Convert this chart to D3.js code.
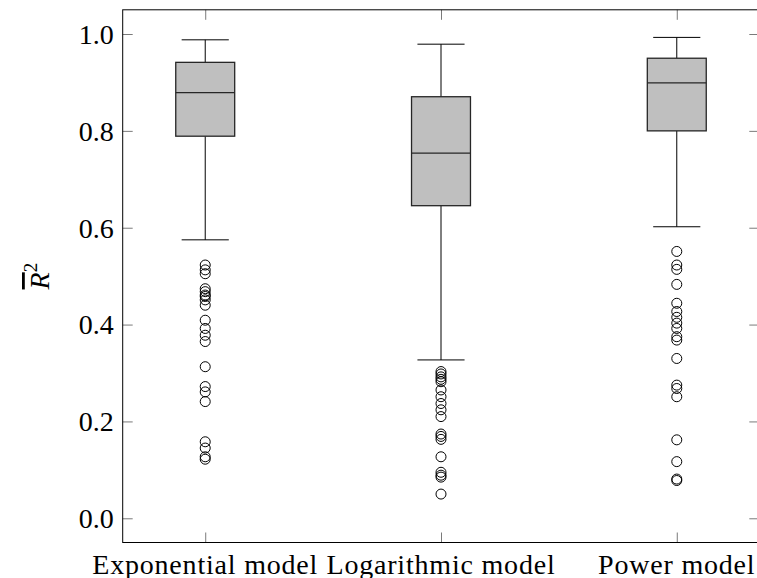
<!DOCTYPE html>
<html><head><meta charset="utf-8">
<script src="https://cdn.jsdelivr.net/npm/d3@7"></script>
<style>body{margin:0;background:#fff}svg{display:block}</style>
</head><body>
<svg id="c" width="757" height="578"></svg>
<script>
const categories = ["Exponential model", "Logarithmic model", "Power model"];
const lowerWhisker = [0.575, 0.327, 0.602];
const lowerQuartile = [0.789, 0.6455, 0.800];
const median = [0.879, 0.754, 0.899];
const upperQuartile = [0.9415, 0.8705, 0.950];
const upperWhisker = [0.988, 0.979, 0.993];
const outliersExp = [0.523, 0.513, 0.505, 0.474, 0.468, 0.461, 0.458, 0.451, 0.440, 0.409, 0.392, 0.378, 0.365, 0.313, 0.272, 0.261, 0.241, 0.158, 0.145, 0.127, 0.122];
const outliersLog = [0.303, 0.298, 0.292, 0.287, 0.282, 0.265, 0.251, 0.237, 0.224, 0.210, 0.174, 0.169, 0.163, 0.127, 0.095, 0.089, 0.085, 0.050];
const outliersPow = [0.551, 0.523, 0.514, 0.483, 0.444, 0.427, 0.415, 0.403, 0.392, 0.375, 0.368, 0.330, 0.275, 0.268, 0.251, 0.162, 0.117, 0.081, 0.078];
const outliers = [outliersExp, outliersLog, outliersPow];
const yTicks = [0.0, 0.2, 0.4, 0.6, 0.8, 1.0];
const xTicks = [1, 2, 3];

const svg = d3.select("#c");
const x = d3.scaleLinear().domain([0.65, 3.35]).range([122.7, 759.3]);
const y = d3.scaleLinear().domain([-0.05, 1.05]).range([542.5, 9.8]);
const font = "'Liberation Serif', serif";
const x0 = x.range()[0], x1 = x.range()[1], yb = y.range()[0], yt = y.range()[1];

// ticks (gray, inward)
const tickColor = "#7a7a7a", tl = 10;
const axL = d3.axisRight(y).tickValues(yTicks).tickSize(tl).tickFormat("");
const axR = d3.axisLeft(y).tickValues(yTicks).tickSize(tl).tickFormat("");
const axB = d3.axisTop(x).tickValues(xTicks).tickSize(tl).tickFormat("");
const axT = d3.axisBottom(x).tickValues(xTicks).tickSize(tl).tickFormat("");
[[axL, `translate(${x0},0)`], [axR, `translate(${x1},0)`], [axB, `translate(0,${yb})`], [axT, `translate(0,${yt})`]].forEach(([a, t]) => {
  const g = svg.append("g").attr("transform", t).call(a);
  g.select(".domain").remove();
  g.selectAll(".tick line").attr("stroke", tickColor).attr("stroke-width", 1);
});

// tick labels
svg.append("g").selectAll("text").data(yTicks).join("text")
  .attr("x", x0 - 9).attr("y", d => y(d)).attr("dy", "0.35em")
  .attr("text-anchor", "end").attr("font-family", font).attr("font-size", 28)
  .text(d => d3.format(".1f")(d));
svg.append("g").selectAll("text").data(categories).join("text")
  .attr("x", (d, i) => x(xTicks[i])).attr("y", yb + 31)
  .attr("text-anchor", "middle").attr("font-family", font).attr("font-size", 28)
  .attr("letter-spacing", 0.8)
  .text(d => d);

// boxes
const boxW = 0.25, capW = 0.2;
categories.forEach((c, i) => {
  const cx = xTicks[i];
  const g = svg.append("g");
  g.append("line").attr("x1", x(cx)).attr("x2", x(cx)).attr("y1", y(upperWhisker[i])).attr("y2", y(upperQuartile[i])).attr("stroke", "#000");
  g.append("line").attr("x1", x(cx)).attr("x2", x(cx)).attr("y1", y(lowerQuartile[i])).attr("y2", y(lowerWhisker[i])).attr("stroke", "#000");
  g.append("line").attr("x1", x(cx - capW / 2)).attr("x2", x(cx + capW / 2)).attr("y1", y(upperWhisker[i])).attr("y2", y(upperWhisker[i])).attr("stroke", "#000");
  g.append("line").attr("x1", x(cx - capW / 2)).attr("x2", x(cx + capW / 2)).attr("y1", y(lowerWhisker[i])).attr("y2", y(lowerWhisker[i])).attr("stroke", "#000");
  g.append("rect").attr("x", x(cx - boxW / 2)).attr("width", x(cx + boxW / 2) - x(cx - boxW / 2))
    .attr("y", y(upperQuartile[i])).attr("height", y(lowerQuartile[i]) - y(upperQuartile[i]))
    .attr("fill", "#bfbfbf").attr("stroke", "#262626").attr("stroke-width", 1.3);
  g.append("line").attr("x1", x(cx - boxW / 2)).attr("x2", x(cx + boxW / 2)).attr("y1", y(median[i])).attr("y2", y(median[i])).attr("stroke", "#262626").attr("stroke-width", 1.3);
  g.selectAll("circle").data(outliers[i]).join("circle")
    .attr("cx", x(cx)).attr("cy", d => y(d)).attr("r", 5)
    .attr("fill", "none").attr("stroke", "#000").attr("stroke-width", 1);
});

// frame
svg.append("rect").attr("x", x0).attr("y", yt).attr("width", x1 - x0).attr("height", yb - yt)
  .attr("fill", "none").attr("stroke", "#000").attr("stroke-width", 1);

// y label: R-bar squared
const lab = svg.append("text").attr("transform", `translate(49,${(yt + yb) / 2}) rotate(-90)`)
  .attr("text-anchor", "middle").attr("font-family", font).attr("font-size", 28);
lab.append("tspan").attr("font-style", "italic").attr("text-decoration", "overline").text("R");
lab.append("tspan").attr("font-size", 19).attr("dy", -12).text("2");
</script>
</body></html>
